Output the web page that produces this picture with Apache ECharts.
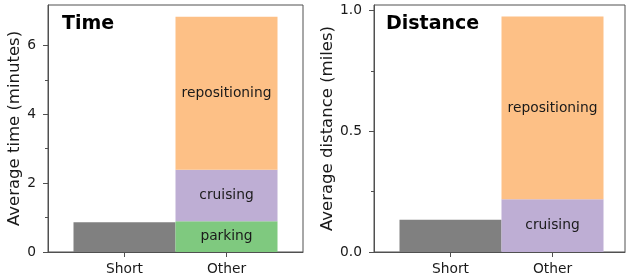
<!DOCTYPE html>
<html>
<head>
<meta charset="utf-8">
<script src="https://cdn.jsdelivr.net/npm/echarts@6/dist/echarts.min.js"></script>
<style>
html,body{margin:0;padding:0;background:#fff;}
#chart{width:626px;height:279px;}
</style>
</head>
<body>
<div id="chart"></div>
<script>
// ---- data ----
const categories = ['Short', 'Other'];
const segmentNames = ['parking', 'cruising', 'repositioning'];
// Time panel (minutes)
const timeShort = [0.86];
const timeParking = [0.89];
const timeCruising = [1.50];
const timeRepositioning = [4.44];
// Distance panel (miles)
const distShort = [0.134];
const distCruising = [0.218];
const distRepositioning = [0.757];
// ticks
const timeTicks = [0, 2, 4, 6];
const timeMinorTicks = [1, 3, 5];
const distTicks = [0, 0.5, 1.0];
const distMinorTicks = [0.25, 0.75];
const xTicks = [0, 1];

const FONT = 'DejaVu Sans';
const SPINE = '#505050';
const TXT = '#1a1a1a';
const colors = { short: '#808080', parking: '#7fc97f', cruising: '#beaed4', repositioning: '#fdc086' };

const chart = echarts.init(document.getElementById('chart'), null, { renderer: 'canvas' });

function xAxis(gridIndex, max) {
  return {
    type: 'value', gridIndex: gridIndex, min: -0.75, max: max,
    axisLine: { show: true, onZero: false, lineStyle: { color: SPINE, width: 1 } },
    axisTick: { show: true, customValues: xTicks, length: 5, lineStyle: { color: SPINE } },
    axisLabel: { show: true, customValues: xTicks, margin: 10, fontSize: 13.8, fontFamily: FONT, color: TXT,
      formatter: v => categories[Math.round(v)] },
    splitLine: { show: false }
  };
}
function yAxis(gridIndex, max, ticks, name, gap, fmt) {
  return {
    type: 'value', gridIndex: gridIndex, min: 0, max: max,
    name: name, nameLocation: 'middle', nameRotate: 90, nameGap: gap,
    nameTextStyle: { fontSize: 16.5, fontFamily: FONT, color: TXT },
    axisLine: { show: true, onZero: false, lineStyle: { color: SPINE, width: 1 } },
    axisTick: { show: true, customValues: ticks, length: 5, lineStyle: { color: SPINE } },
    axisLabel: { show: true, customValues: ticks, margin: 12, fontSize: 13.8, fontFamily: FONT, color: TXT, formatter: fmt },
    splitLine: { show: false }
  };
}
function minorAxis(gridIndex, max, ticks) {
  return {
    type: 'value', gridIndex: gridIndex, min: 0, max: max, position: 'left',
    axisLine: { show: false, onZero: false },
    axisTick: { show: true, customValues: ticks, length: 3, lineStyle: { color: SPINE } },
    axisLabel: { show: false },
    splitLine: { show: false }
  };
}
// data items are [value, xPosition] so that the value dimension is the stacked one
function seg(name, vals, x, color, xi, yi, stack, label) {
  return {
    type: 'bar', name: name, xAxisIndex: xi, yAxisIndex: yi, stack: stack,
    barWidth: 102, barGap: '-100%',
    encode: { x: 1, y: 0 },
    data: vals.map(v => [v, x]),
    itemStyle: { color: color },
    label: { show: label, position: 'inside', formatter: name, fontSize: 13.8, fontFamily: FONT, color: TXT },
    silent: true, animation: false
  };
}

const option = {
  animation: false,
  grid: [
    { left: 48, top: 5, width: 255, height: 247, show: true, borderColor: SPINE, borderWidth: 1, backgroundColor: 'transparent' },
    { left: 374, top: 5, width: 251, height: 247, show: true, borderColor: SPINE, borderWidth: 1, backgroundColor: 'transparent' }
  ],
  title: [
    { text: 'Time', left: 62, top: 15, padding: 0, textStyle: { fontSize: 19, fontWeight: 'bold', fontFamily: FONT, color: '#000' } },
    { text: 'Distance', left: 386, top: 15, padding: 0, textStyle: { fontSize: 19, fontWeight: 'bold', fontFamily: FONT, color: '#000' } }
  ],
  xAxis: [xAxis(0, 1.75), xAxis(1, -0.75 + 251 / 102)],
  yAxis: [
    yAxis(0, 7.17, timeTicks, 'Average time (minutes)', 22, v => String(v)),
    yAxis(1, 1.023, distTicks, 'Average distance (miles)', 36, v => v.toFixed(1)),
    minorAxis(0, 7.17, timeMinorTicks),
    minorAxis(1, 1.023, distMinorTicks)
  ],
  series: [
    seg('Short', timeShort, 0, colors.short, 0, 0, 's', false),
    seg(segmentNames[0], timeParking, 1, colors.parking, 0, 0, 'o', true),
    seg(segmentNames[1], timeCruising, 1, colors.cruising, 0, 0, 'o', true),
    seg(segmentNames[2], timeRepositioning, 1, colors.repositioning, 0, 0, 'o', true),
    seg('Short', distShort, 0, colors.short, 1, 1, 's2', false),
    seg(segmentNames[1], distCruising, 1, colors.cruising, 1, 1, 'o2', true),
    seg(segmentNames[2], distRepositioning, 1, colors.repositioning, 1, 1, 'o2', true)
  ]
};
chart.setOption(option);
</script>
</body>
</html>
